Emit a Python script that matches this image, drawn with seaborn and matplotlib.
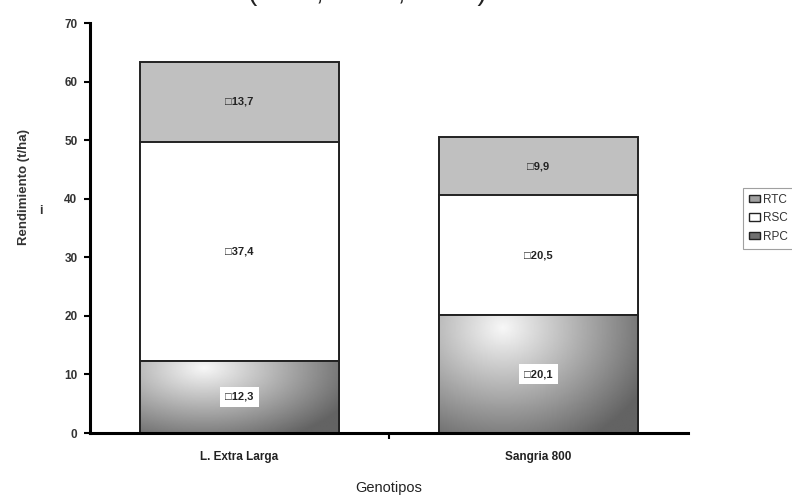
import numpy as np
import pandas as pd
import matplotlib
matplotlib.use("Agg")
import matplotlib.pyplot as plt
from matplotlib.patches import Patch
import seaborn as sns

genotipos = ["L. Extra Larga", "Sangria 800"]
rpc = [12.3, 20.1]
rsc = [37.4, 20.5]
rtc = [13.7, 9.9]
series = ["RTC", "RSC", "RPC"]
yticks = [0, 10, 20, 30, 40, 50, 60, 70]

sns.set_theme(style="white")
plt.rcParams["font.family"] = ["Liberation Sans", "DejaVu Sans"]

df = pd.DataFrame({"Genotipos": genotipos, "RPC": rpc, "RSC": rsc, "RTC": rtc})
df["c1"] = df["RPC"]
df["c2"] = df["RPC"] + df["RSC"]
df["c3"] = df["c2"] + df["RTC"]

fig = plt.figure(figsize=(7.92, 4.95), dpi=100)
ax = fig.add_axes([90 / 792, 1 - 433 / 495, (688 - 90) / 792, (433 - 23) / 495])

bw = 0.665
edge = dict(edgecolor="#222222", linewidth=1.4)
sns.barplot(data=df, x="Genotipos", y="c3", color="#c0c0c0", saturation=1,
            width=bw, ax=ax, **edge)
sns.barplot(data=df, x="Genotipos", y="c2", color="white", saturation=1,
            width=bw, ax=ax, **edge)
sns.barplot(data=df, x="Genotipos", y="c1", color="#9a9a9a", saturation=1,
            width=bw, ax=ax, **edge)

# shaded fill for the RPC segments
ny, nx = 60, 120
yy, xx = np.mgrid[0:1:ny * 1j, 0:1:nx * 1j]
d = np.sqrt(((xx - 0.32) / 1.0) ** 2 + ((yy - 0.9) / 1.4) ** 2)
shade = 0.97 - 0.58 * np.clip(d / 0.8, 0, 1)
for p in ax.containers[-1].patches:
    x0, w, h = p.get_x(), p.get_width(), p.get_height()
    im = ax.imshow(shade, cmap="gray", vmin=0, vmax=1, origin="lower",
                   extent=[x0, x0 + w, 0, h], aspect="auto",
                   interpolation="bilinear", zorder=p.get_zorder() + 0.01)
    im.set_clip_path(p)
    ax.add_patch(plt.Rectangle((x0, 0), w, h, fill=False,
                               edgecolor="#222222", linewidth=1.4,
                               zorder=p.get_zorder() + 0.02))

def fmt(v):
    return "\u25a1" + f"{v:.1f}".replace(".", ",")

lab = dict(ha="center", va="center", fontsize=8, fontweight="bold",
           color="#222222", zorder=10)
for i in range(len(genotipos)):
    ax.text(i, df["c2"][i] + df["RTC"][i] / 2, fmt(df["RTC"][i]), **lab)
    ax.text(i, df["c1"][i] + df["RSC"][i] / 2, fmt(df["RSC"][i]), **lab)
    ax.text(i, df["RPC"][i] / 2, fmt(df["RPC"][i]), **lab,
            bbox=dict(boxstyle="square,pad=0.45", facecolor="white",
                      edgecolor="none"))

ax.set_xlim(-0.5, 1.5)
ax.set_ylim(0, 70)
ax.set_yticks(yticks)
ax.set_yticklabels([str(t) for t in yticks], fontsize=8.5, fontweight="bold",
                   color="#333333")
ax.set_xticks([0.5], minor=True)
ax.set_xticklabels(genotipos, fontsize=8.5, fontweight="bold", color="#222222")
ax.tick_params(axis="y", which="major", direction="out", length=4, width=1.5,
               left=True, color="black", pad=5)
ax.tick_params(axis="x", which="major", length=0, pad=13)
ax.tick_params(axis="x", which="minor", direction="out", length=4, width=1.5,
               bottom=True, color="black")
for s in ["top", "right"]:
    ax.spines[s].set_visible(False)
for s in ["left", "bottom"]:
    ax.spines[s].set_linewidth(2.2)
    ax.spines[s].set_color("black")

ax.set_xlabel("Genotipos", fontsize=10.5, color="#222222", labelpad=13)
ax.set_ylabel("Rendimiento (t/ha)", fontsize=9.5, fontweight="bold",
              color="#333333")
ax.yaxis.set_label_coords(-0.1, 0.6)
fig.text(41 / 792, 1 - 211 / 495, "i", fontsize=9, fontweight="bold",
         ha="center", va="center", color="#333333")

handles = [Patch(facecolor="#a0a0a0", edgecolor="#222222", linewidth=1.0),
           Patch(facecolor="white", edgecolor="#222222", linewidth=1.0),
           Patch(facecolor="#707070", edgecolor="#222222", linewidth=1.0)]
leg = fig.legend(handles, series, loc="upper left",
                 bbox_to_anchor=(743 / 792, 1 - 188 / 495),
                 frameon=True, fontsize=8.5, handlelength=0.9,
                 handleheight=0.6, handletextpad=0.3, labelspacing=0.55,
                 borderpad=0.5, fancybox=False, borderaxespad=0)
leg.get_frame().set_edgecolor("#888888")
leg.get_frame().set_linewidth(0.8)
for t in leg.get_texts():
    t.set_color("#333333")

fig.text(248 / 792, 1.0, "(RPC,  RSC,  RTC)", fontsize=20, ha="left",
         va="baseline", color="#222222")

fig.savefig("out.png", dpi=100)
